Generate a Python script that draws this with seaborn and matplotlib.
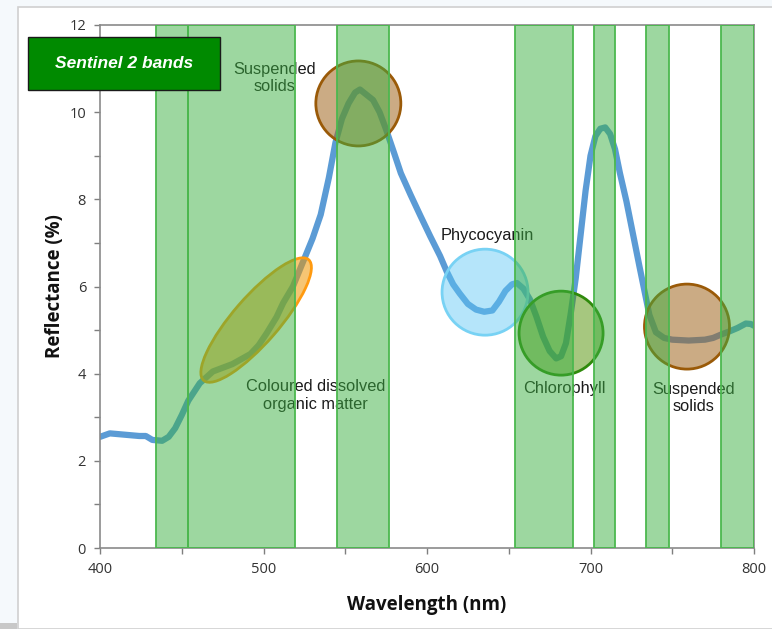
import matplotlib
matplotlib.use("Agg")
import matplotlib.pyplot as plt
import matplotlib.transforms as mtransforms
from matplotlib.patches import Ellipse, Rectangle
import pandas as pd
import seaborn as sns

# reflectance spectrum
wavelength = [400, 406, 415, 424, 428, 432, 438, 442, 446, 450, 454, 461, 469, 481, 492, 497,
              502, 508, 512, 518, 524, 530, 535, 540, 544, 548, 552, 556, 559, 563, 567, 571,
              575, 580, 584, 590, 596, 602, 608, 612, 616, 620, 625, 630, 635, 640, 644, 648,
              652, 655, 659, 663, 667, 671, 675, 679, 682, 685, 688, 691, 694, 697, 700, 703,
              706, 709, 712, 715, 718, 722, 726, 730, 733, 736, 740, 745, 750, 755, 760, 765,
              770, 775, 780, 785, 790, 795, 798, 800]
reflectance = [2.55, 2.63, 2.6, 2.57, 2.57, 2.48, 2.46, 2.55, 2.75, 3.05, 3.38, 3.78, 4.05, 4.22, 4.45, 4.65,
               4.93, 5.3, 5.62, 6.0, 6.55, 7.1, 7.65, 8.5, 9.3, 9.85, 10.2, 10.45, 10.52, 10.4, 10.28, 10.0,
               9.6, 9.05, 8.6, 8.1, 7.62, 7.15, 6.7, 6.35, 6.05, 5.84, 5.6, 5.47, 5.42, 5.45, 5.65, 5.9,
               6.05, 6.08, 5.95, 5.7, 5.3, 4.85, 4.52, 4.35, 4.4, 4.7, 5.4, 6.2, 7.2, 8.2, 9.0, 9.45,
               9.62, 9.65, 9.5, 9.15, 8.6, 7.95, 7.2, 6.45, 5.9, 5.35, 4.95, 4.82, 4.78, 4.77, 4.76, 4.77,
               4.78, 4.82, 4.9, 4.97, 5.05, 5.15, 5.14, 5.1]

# sentinel 2 bands (nm)
band_start = [434, 454, 545, 654, 702, 734, 780]
band_end = [454, 519, 577, 689, 715, 748, 800]

# annotation labels
label_text = ["Suspended\nsolids", "Phycocyanin", "Coloured dissolved\norganic matter",
              "Chlorophyll", "Suspended\nsolids"]
label_x = [507, 637, 532, 684, 763]
label_y = [10.78, 7.18, 3.5, 3.67, 3.44]

# highlight circles / ellipse centres
mark_x = [558, 635.5, 682, 759, 495.5]
mark_y = [10.2, 5.87, 4.93, 5.08, 5.23]

df = pd.DataFrame({"Wavelength": wavelength, "Reflectance": reflectance})

sns.set_theme(style="ticks")
plt.rcParams["font.family"] = ["Open Sans", "DejaVu Sans"]

fig = plt.figure(figsize=(7.72, 6.29), dpi=100, facecolor="#f5f9fc")
# white page with thin grey frame, like the screenshot
fig.patches.append(Rectangle((18 / 772, 0), 1, 1 - 7 / 629, transform=fig.transFigure,
                             facecolor="white", edgecolor="#d0d0d0", lw=1.2, zorder=-10))
fig.patches.append(Rectangle((0, 0), 17 / 772, 6 / 629, transform=fig.transFigure,
                             facecolor="#c8c8c8", edgecolor="none", zorder=-9))
ax = fig.add_axes([100 / 772, 1 - 548 / 629, 654 / 772, 523 / 629])
ax.set_facecolor("white")

sns.lineplot(data=df, x="Wavelength", y="Reflectance", ax=ax, color="#5b9bd5",
             lw=4.5, solid_capstyle="round", solid_joinstyle="round", zorder=1)

for s, e in zip(band_start, band_end):
    ax.axvspan(s, e, facecolor=(0.24, 0.69, 0.26, 0.5), edgecolor="#4cb84f", lw=1.3, zorder=4)

for t, x, y in zip(label_text, label_x, label_y):
    ax.text(x, y, t, ha="center", va="center", fontsize=11.8, color="#1a1a1a",
            family=["Liberation Sans"], linespacing=1.2, zorder=3)


def px_ellipse(x, y, w, h, angle, face, edge):
    tr = mtransforms.IdentityTransform() + mtransforms.ScaledTranslation(x, y, ax.transData)
    ax.add_artist(Ellipse((0, 0), w, h, angle=angle, transform=tr, facecolor=face,
                          edgecolor=edge, lw=2, zorder=2))


px_ellipse(mark_x[0], mark_y[0], 85, 85, 0, (0.63, 0.40, 0.12, 0.55), "#9a5a08")
px_ellipse(mark_x[1], mark_y[1], 86, 86, 0, (0.36, 0.78, 0.96, 0.45), "#78d2f4")
px_ellipse(mark_x[2], mark_y[2], 84, 84, 0, (0.31, 0.57, 0.0, 0.5), "#2f8a0c")
px_ellipse(mark_x[3], mark_y[3], 85, 85, 0, (0.63, 0.40, 0.12, 0.55), "#9a5a08")
px_ellipse(mark_x[4], mark_y[4], 160, 46, 49, (0.94, 0.59, 0.0, 0.55), "#ff9a10")

ax.set_xlim(400, 800)
ax.set_ylim(0, 12)
ax.set_xticks([400, 500, 600, 700, 800])
ax.set_xticks([450, 550, 650, 750], minor=True)
ax.set_yticks([0, 2, 4, 6, 8, 10, 12])
ax.set_yticks([1, 3, 5, 7, 9, 11], minor=True)
ax.tick_params(which="both", direction="out", length=4, width=1, color="#7f7f7f",
               labelsize=10.5, labelcolor="#333333", pad=6)
for sp in ax.spines.values():
    sp.set_visible(True)
    sp.set_color("#8a8a8a")
    sp.set_linewidth(1.2)

ax.set_xlabel("Wavelength (nm)", fontsize=13.5, fontweight="bold", color="#111111", labelpad=13)
ax.set_ylabel("Reflectance (%)", fontsize=13.5, fontweight="bold", color="#111111", labelpad=3)

# legend-like box
fig.patches.append(Rectangle((28 / 772, 1 - 90 / 629), 192 / 772, 53 / 629, transform=fig.transFigure,
                             facecolor="#008a00", edgecolor="#1a1a1a", lw=1, zorder=5))
fig.text(124 / 772, 1 - 64 / 629, "Sentinel 2 bands", ha="center", va="center", color="white",
         fontsize=12.5, fontweight="bold", style="italic", family=["Liberation Sans"], zorder=6)

fig.savefig("out.png", dpi=100, facecolor=fig.get_facecolor())
